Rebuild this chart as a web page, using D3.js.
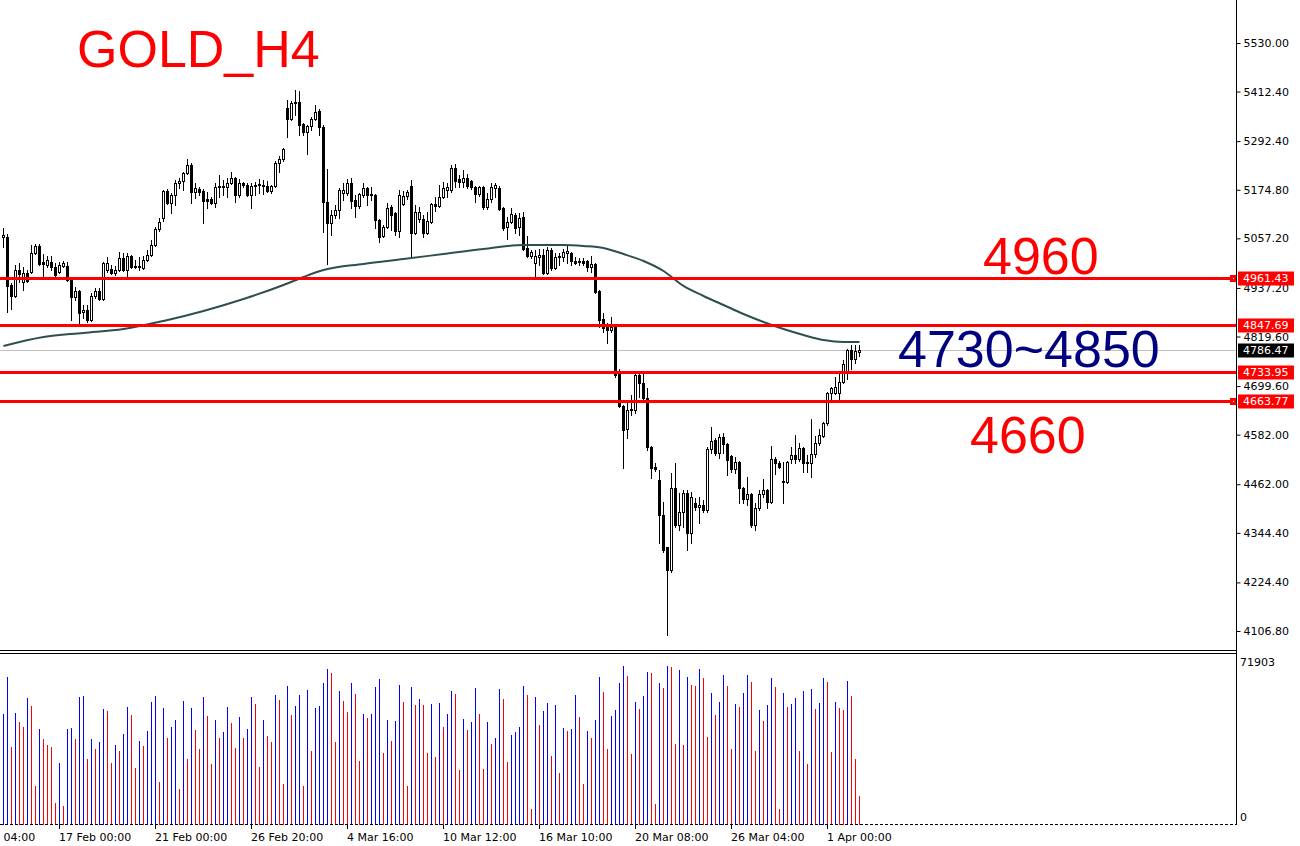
<!DOCTYPE html>
<html>
<head>
<meta charset="utf-8">
<script src="https://cdn.jsdelivr.net/npm/d3@7/dist/d3.min.js"></script>
<style>
body { margin: 0; background: #fff; }
svg text { font-family: "DejaVu Sans", sans-serif; }
</style>
</head>
<body>
<svg id="chart"></svg>
<script>
// GOLD H4 candles
var opens = [
5060.5,5060.5,4944.3,4917.7,4980.6,4951.6,4973.3,4975.8,5021.7,5038.7,
5000.0,4992.9,5000.0,4988.1,4975.8,4990.5,4990.5,4956.4,4915.3,4929.8,
4879.0,4883.8,4859.6,4917.7,4929.8,4910.4,4980.6,4983.0,4973.3,4980.6,
5009.6,4980.6,5014.5,4988.1,4990.5,4985.4,5004.8,5016.9,5041.1,5079.8,
5106.4,5171.8,5142.7,5162.1,5191.1,5196.0,5215.3,5234.7,5169.4,5176.6,
5171.8,5152.4,5152.4,5142.7,5181.5,5183.9,5181.5,5191.1,5203.2,5162.1,
5191.1,5186.3,5162.1,5183.9,5186.3,5183.9,5183.9,5171.8,5183.9,5239.5,
5249.2,5372.6,5346.0,5384.7,5387.2,5333.9,5314.6,5329.1,5346.0,5365.4,
5326.7,5145.2,5094.3,5113.7,5125.8,5167.0,5167.0,5191.1,5150.0,5135.5,
5162.1,5179.0,5162.1,5162.1,5101.6,5062.9,5084.7,5133.1,5118.5,5075.0,
5140.3,5159.7,5183.9,5070.1,5104.0,5104.0,5070.1,5096.8,5140.3,5135.5,
5157.3,5174.2,5174.2,5227.4,5200.8,5193.6,5203.2,5196.0,5181.5,5164.5,
5181.5,5133.1,5152.4,5179.0,5179.0,5130.6,5084.7,5096.8,5113.7,5084.7,
5108.9,5033.8,5014.5,4997.5,5012.1,5016.9,4973.3,5029.0,4985.4,5012.1,
5012.1,5021.7,5021.7,5002.4,5000.0,5002.4,5002.4,4988.1,4995.3,4929.8,
4862.0,4842.7,4835.4,4842.7,4731.3,4651.5,4595.8,4641.8,4641.8,4726.5,
4707.1,4670.8,4552.3,4503.9,4472.4,4387.7,4310.3,4254.6,4453.0,4363.5,
4394.9,4440.9,4344.1,4416.7,4407.1,4411.9,4399.8,4547.4,4569.2,4537.7,
4576.5,4559.5,4530.5,4499.0,4515.9,4453.0,4426.4,4438.5,4363.5,4404.6,
4438.5,4448.2,4419.2,4523.2,4513.5,4470.0,4467.6,4523.2,4532.9,4523.2,
4549.8,4513.5,4513.5,4535.3,4561.9,4578.9,4610.3,4683.0,4683.0,4683.0,
4709.6,4733.8,4787.0,4765.2,4782.2];
var highs = [
5082.2,5067.7,4949.1,4992.9,4997.5,4988.1,4980.6,5041.1,5043.5,5043.5,
5019.3,5014.5,5014.5,4997.5,5000.0,5002.4,5000.0,4958.8,4939.5,4932.2,
4895.9,4895.9,4925.0,4937.0,4937.0,5000.0,5012.1,4992.9,4990.5,5024.2,
5021.7,5021.7,5016.9,5004.8,5012.1,5014.5,5029.0,5053.2,5084.7,5106.4,
5174.2,5176.6,5166.9,5198.4,5203.2,5217.8,5249.2,5239.5,5191.1,5181.5,
5176.6,5169.4,5157.3,5191.1,5210.5,5198.4,5203.2,5217.8,5205.7,5200.8,
5193.6,5191.1,5191.1,5193.6,5200.8,5198.4,5196.0,5186.3,5244.4,5256.5,
5275.8,5392.0,5389.6,5416.2,5413.8,5336.3,5331.5,5350.9,5379.9,5370.2,
5331.5,5225.0,5125.8,5137.9,5179.0,5191.1,5200.8,5203.2,5162.1,5166.9,
5191.1,5181.5,5181.5,5164.5,5104.0,5089.5,5142.7,5137.9,5120.9,5174.2,
5171.8,5174.2,5198.4,5137.9,5133.1,5113.7,5120.9,5142.7,5157.3,5186.3,
5193.6,5191.1,5234.7,5237.1,5210.5,5222.6,5212.9,5198.4,5183.9,5183.9,
5183.9,5166.9,5191.1,5191.1,5183.9,5133.1,5108.9,5130.6,5118.5,5118.5,
5120.9,5062.9,5029.0,5029.0,5031.4,5031.4,5036.3,5033.8,5021.7,5021.7,
5031.4,5038.7,5024.2,5012.1,5009.6,5009.6,5004.8,5014.5,4997.5,4932.2,
4876.5,4852.3,4866.9,4849.9,4741.0,4653.9,4661.2,4678.1,4731.3,4731.3,
4731.3,4695.0,4554.7,4513.5,4496.6,4419.2,4310.3,4489.3,4513.5,4440.9,
4448.2,4448.2,4443.4,4428.8,4431.3,4424.0,4552.3,4600.7,4574.0,4583.7,
4586.1,4561.9,4532.9,4528.1,4518.4,4455.5,4479.7,4440.9,4416.7,4448.2,
4474.8,4450.6,4554.7,4528.1,4518.4,4516.0,4518.4,4552.3,4581.3,4561.9,
4552.3,4532.9,4620.0,4578.9,4595.8,4612.8,4685.4,4697.5,4721.7,4733.8,
4762.8,4789.4,4799.1,4799.1,4799.1];
var lows = [
5036.3,4879.0,4886.2,4915.3,4951.6,4932.2,4951.6,4973.3,5019.3,4992.9,
4963.7,4988.1,4980.6,4966.1,4973.3,4988.1,4954.0,4859.6,4908.0,4847.5,
4864.4,4854.8,4857.2,4912.8,4908.0,4908.0,4975.8,4970.9,4968.5,4978.2,
4978.2,4963.7,4985.4,4985.4,4980.6,4983.0,5002.4,5014.5,5038.7,5075.0,
5099.2,5140.3,5118.5,5137.9,5179.0,5174.2,5212.9,5142.7,5154.8,5162.1,
5094.3,5130.6,5140.3,5133.1,5157.3,5162.1,5157.3,5188.7,5145.2,5157.3,
5181.5,5159.7,5130.6,5162.1,5167.0,5164.5,5169.4,5167.0,5181.5,5217.8,
5244.4,5302.5,5343.6,5355.7,5307.3,5307.3,5261.3,5319.4,5343.6,5307.3,
5072.6,4995.3,5065.3,5106.4,5106.4,5150.0,5162.1,5130.6,5108.9,5130.6,
5157.3,5137.9,5150.0,5082.2,5048.4,5060.5,5082.2,5077.4,5065.3,5060.5,
5137.9,5152.4,5012.1,5067.7,5096.8,5060.5,5067.7,5094.3,5123.4,5133.1,
5154.8,5157.3,5169.4,5181.5,5181.5,5181.5,5179.0,5176.6,5145.2,5159.7,
5128.2,5128.2,5145.2,5157.3,5125.8,5077.4,5055.6,5094.3,5070.1,5065.3,
5029.0,5012.1,5009.6,4963.7,4992.9,4970.9,4970.9,4980.6,4983.0,4992.9,
5002.4,4997.5,4992.9,4995.3,4992.9,4992.9,4978.2,4975.8,4925.0,4842.7,
4830.6,4803.9,4830.6,4721.7,4649.1,4501.4,4574.0,4629.7,4634.5,4673.3,
4666.0,4545.0,4477.2,4494.2,4320.0,4298.2,4097.3,4249.8,4358.7,4351.4,
4358.7,4303.0,4320.0,4399.8,4368.3,4395.0,4395.0,4537.7,4532.9,4525.6,
4537.7,4484.5,4491.8,4489.3,4416.7,4416.7,4411.9,4358.7,4351.4,4399.8,
4431.3,4404.6,4416.7,4486.9,4501.4,4416.7,4465.1,4513.5,4513.5,4518.4,
4491.8,4491.8,4479.7,4528.1,4557.1,4576.5,4605.5,4663.6,4680.5,4663.6,
4707.1,4716.8,4741.0,4755.5,4772.5];
var closes = [
5065.3,4941.9,4917.7,4980.6,4970.9,4973.3,4954.0,5021.7,5038.7,4995.3,
4995.3,5004.8,4988.1,4968.5,4992.9,4997.5,4956.4,4915.3,4929.8,4876.5,
4883.8,4859.6,4917.7,4929.8,4910.4,4997.5,4997.5,4973.3,4980.6,5009.6,
4980.6,5014.5,4988.1,4990.5,4988.1,5004.8,5016.9,5041.1,5079.8,5096.8,
5171.8,5142.7,5162.1,5191.1,5196.0,5215.3,5234.7,5169.4,5179.0,5169.4,
5147.6,5147.6,5142.7,5181.5,5183.9,5181.5,5191.1,5203.2,5162.1,5191.1,
5186.3,5162.1,5183.9,5186.3,5188.7,5186.3,5171.8,5183.9,5239.5,5249.2,
5273.4,5346.0,5384.7,5387.2,5331.5,5314.6,5329.1,5346.0,5363.0,5326.7,
5145.2,5094.3,5113.7,5125.8,5174.2,5174.2,5191.1,5147.6,5135.5,5164.5,
5179.0,5162.1,5164.5,5101.6,5060.5,5084.7,5130.6,5113.7,5075.0,5162.1,
5159.7,5169.4,5070.1,5120.9,5120.9,5070.1,5099.2,5140.3,5135.5,5157.3,
5179.0,5181.5,5227.4,5196.0,5193.6,5203.2,5183.9,5181.5,5164.5,5181.5,
5133.1,5152.4,5181.5,5186.3,5128.2,5082.2,5096.8,5116.1,5082.2,5106.4,
5031.4,5014.5,5024.2,5014.5,5016.9,4973.3,5029.0,4985.4,5012.1,5014.5,
5024.2,5026.6,5002.4,4997.5,5002.4,4997.5,4988.1,4995.3,4927.4,4859.6,
4840.2,4835.4,4842.7,4726.5,4651.5,4593.4,4641.8,4644.2,4726.5,4707.1,
4670.8,4552.3,4501.4,4499.0,4387.7,4303.0,4254.6,4453.0,4363.5,4394.9,
4440.9,4344.1,4431.3,4407.1,4411.9,4399.8,4547.4,4566.8,4537.7,4576.5,
4559.5,4520.8,4499.0,4515.9,4453.0,4426.4,4438.5,4363.5,4404.6,4438.5,
4448.2,4419.2,4523.2,4513.5,4503.9,4467.6,4515.9,4532.9,4523.2,4549.8,
4513.5,4515.9,4535.3,4561.9,4581.3,4610.3,4683.0,4695.0,4697.5,4709.6,
4753.1,4787.0,4765.2,4784.6,4786.47];
var volumes = [
50196,67079,35424,50799,46729,44468,57281,53814,17787,43413,
39042,36178,35424,9949,28188,8743,43564,43865,39042,58035,
58186,29997,39042,34519,37685,52458,51704,28188,36178,33615,
41303,53362,49895,25927,38137,35725,42659,55623,58336,19596,
52910,39494,44468,47634,16431,56075,29997,52910,43112,34519,
57884,49292,27736,47483,39494,42056,53362,46126,34972,48840,
39494,43413,57884,54869,26380,47483,40398,37685,58789,56528,
18541,62859,49895,53814,58789,17787,61050,33615,52910,53814,
64215,70546,68888,37685,60597,56075,51252,64215,59392,29093,
50196,48538,50196,62406,66024,32560,47483,38137,47182,63311,
55623,17787,62406,54266,56980,54266,32560,54719,30902,55322,
44468,50196,60748,59392,24872,47935,43112,46579,61954,50196,
25475,46579,36630,39343,61502,56980,28490,40700,42056,44318,
62859,58789,7236,57884,45222,51553,55171,31203,54266,23515,
43865,42509,43413,58789,48840,18541,42509,39343,47483,66929,
60145,34369,49292,52005,64215,71903,67381,32108,55623,52458,
58336,69190,68737,9497,64215,61954,71700,71451,36630,70094,
36178,66929,63311,62859,70546,66476,39795,59693,49744,55623,
67833,62859,34369,54719,53362,59693,67833,64667,33464,52005,
47031,54266,66476,62406,7236,59693,53362,54719,57432,33464,
60597,27585,61502,52458,55171,66476,64667,33012,55623,52910,
52005,65120,58336,29847,13114];

// moving average, read at some bars
var maIndex = [0,10,20,30,40,50,60,70,75,80,90,100,110,120,130,140,145,150,155,160,165,170,175,180,185,190,195,200,205,210,214];
var maValues = [4796.7,4818.5,4828.2,4837.8,4857.2,4881.4,4910.4,4944.3,4963.7,4980.6,4995.3,5007.2,5019.3,5031.4,5041.1,5041.1,5038.7,5033.8,5019.3,5002.4,4978.2,4942.0,4917.7,4895.9,4874.1,4854.8,4837.8,4823.3,4811.2,4806.4,4806.4];

var priceTicks = [5530.00,5412.40,5292.40,5174.80,5057.20,4937.20,4819.60,4699.60,4582.00,4462.00,4344.40,4224.40,4106.80];
var dateTickIndex = [-10,14,38,62,86,110,134,158,182,206];
var dateLabels = ["12 Feb 04:00","17 Feb 00:00","21 Feb 00:00","26 Feb 20:00","4 Mar 16:00","10 Mar 12:00","16 Mar 10:00","20 Mar 08:00","26 Mar 04:00","1 Apr 00:00"];
var levels = [4961.43,4847.69,4733.95,4663.77];
var levelMarked = [true,false,false,true];
var lastPrice = 4786.47;
var volumeMax = 71903;

var W = 1300, H = 846;
var axisX = 1236;

var svg = d3.select("#chart")
    .attr("width", W)
    .attr("height", H)
    .style("display", "block");

var n = opens.length;
var x = d3.scaleLinear().domain([0, n - 1]).range([3, 3 + 4 * (n - 1)]);
var y = d3.scaleLinear().domain([4106.8, 5530]).range([631, 43]);
var yV = d3.scaleLinear().domain([0, volumeMax]).range([825, 666]);

var bars = d3.range(n).map(function(i) {
    return {i: i, o: opens[i], h: highs[i], l: lows[i], c: closes[i], v: volumes[i]};
});

// current price line (grey)
svg.append("line")
    .attr("x1", 0).attr("x2", axisX)
    .attr("y1", Math.round(y(lastPrice)) + 0.5).attr("y2", Math.round(y(lastPrice)) + 0.5)
    .attr("stroke", "#c0c0c0").attr("stroke-width", 1);

// candles
var cg = svg.append("g").attr("shape-rendering", "crispEdges");
cg.selectAll("rect.wick")
    .data(bars)
    .enter()
    .append("rect")
    .attr("class", "wick")
    .attr("x", function(d) { return x(d.i); })
    .attr("width", 1)
    .attr("y", function(d) { return Math.round(y(d.h)); })
    .attr("height", function(d) { return Math.round(y(d.l)) - Math.round(y(d.h)) + 1; })
    .attr("fill", "#000");

cg.selectAll("rect.body")
    .data(bars)
    .enter()
    .append("rect")
    .attr("class", "body")
    .each(function(d) {
        var top = Math.round(y(Math.max(d.o, d.c)));
        var bot = Math.round(y(Math.min(d.o, d.c)));
        var r = d3.select(this);
        if (d.c > d.o && bot - top >= 2) {
            r.attr("x", x(d.i) - 0.5).attr("y", top + 0.5)
             .attr("width", 2).attr("height", bot - top)
             .attr("fill", "#fff").attr("stroke", "#000").attr("stroke-width", 1);
        } else {
            r.attr("x", x(d.i) - 1).attr("y", top)
             .attr("width", 3).attr("height", bot - top + 1)
             .attr("fill", "#000");
        }
    });

// moving average
var maPts = maIndex.map(function(d, k) { return {i: d, v: maValues[k]}; });
svg.append("path")
    .datum(maPts)
    .attr("d", d3.line()
        .x(function(d) { return x(d.i) + 0.5; })
        .y(function(d) { return y(d.v); })
        .curve(d3.curveMonotoneX))
    .attr("fill", "none")
    .attr("stroke", "#2f4f4f")
    .attr("stroke-width", 2);

// horizontal levels
svg.selectAll("line.level")
    .data(levels)
    .enter()
    .append("line")
    .attr("class", "level")
    .attr("x1", 0).attr("x2", axisX)
    .attr("y1", function(d) { return Math.round(y(d)) + 0.5; })
    .attr("y2", function(d) { return Math.round(y(d)) + 0.5; })
    .attr("stroke", "#ff0000").attr("stroke-width", 3);

// volume bars
svg.append("g").attr("shape-rendering", "crispEdges")
    .selectAll("rect")
    .data(bars)
    .enter()
    .append("rect")
    .attr("x", function(d) { return x(d.i); })
    .attr("width", 1)
    .attr("y", function(d) { return Math.round(yV(d.v)); })
    .attr("height", function(d) { return yV(0) - Math.round(yV(d.v)); })
    .attr("fill", function(d) {
        return (d.i == 0 || d.v > volumes[d.i - 1]) ? "#0000ff" : "#ff0000";
    });

// frames
var fg = svg.append("g").attr("shape-rendering", "crispEdges").attr("stroke", "#000");
fg.append("line").attr("x1", 0).attr("x2", axisX + 1).attr("y1", 650.5).attr("y2", 650.5);
fg.append("line").attr("x1", 0).attr("x2", axisX + 1).attr("y1", 653.5).attr("y2", 653.5);
fg.append("line").attr("x1", 0).attr("x2", axisX + 1).attr("y1", 824.5).attr("y2", 824.5)
    .attr("stroke-dasharray", "3,2");
fg.append("line").attr("x1", axisX + 0.5).attr("x2", axisX + 0.5).attr("y1", 0).attr("y2", 825);

// price axis
var yAxis = d3.axisRight(y)
    .tickValues(priceTicks)
    .tickFormat(d3.format(".2f"))
    .tickSize(4)
    .tickPadding(3);
var ag = svg.append("g")
    .attr("transform", "translate(" + (axisX + 0.5) + ",0)")
    .call(yAxis);
ag.select(".domain").remove();
ag.selectAll("text").attr("font-size", 11).attr("font-family", "DejaVu Sans").attr("fill", "#000");
ag.selectAll("line").attr("stroke", "#000");

// volume axis labels
svg.append("text").attr("x", 1240).attr("y", yV(volumeMax) - 4)
    .attr("dominant-baseline", "central").attr("font-size", 11).text(String(volumeMax));
svg.append("text").attr("x", 1240).attr("y", yV(0) - 8)
    .attr("dominant-baseline", "central").attr("font-size", 11).text("0");

// level tags on the axis
var tags = levels.map(function(d) { return {p: d, fill: "#ff0000"}; });
tags.push({p: lastPrice, fill: "#000"});
var tg = svg.append("g");
tg.selectAll("rect")
    .data(tags)
    .enter()
    .append("rect")
    .attr("x", axisX + 2)
    .attr("y", function(d) { return Math.round(y(d.p)) - 6.5; })
    .attr("width", 56).attr("height", 14)
    .attr("fill", function(d) { return d.fill; });
tg.selectAll("text")
    .data(tags)
    .enter()
    .append("text")
    .attr("x", axisX + 7)
    .attr("y", function(d) { return Math.round(y(d.p)) + 0.5; })
    .attr("dominant-baseline", "central")
    .attr("font-size", 11)
    .attr("fill", "#fff")
    .text(function(d) { return d.p.toFixed(2); });

// small markers at line ends
levels.forEach(function(d, k) {
    if (!levelMarked[k]) return;
    var yy = Math.round(y(d));
    svg.append("rect").attr("x", axisX - 6).attr("y", yy - 3).attr("width", 6).attr("height", 7)
        .attr("fill", "#ff0000").attr("shape-rendering", "crispEdges");
    svg.append("rect").attr("x", axisX - 3).attr("y", yy).attr("width", 1).attr("height", 1)
        .attr("fill", "#fff").attr("shape-rendering", "crispEdges");
});

// time axis
var dg = svg.append("g");
dg.selectAll("line")
    .data(dateTickIndex)
    .enter()
    .append("line")
    .attr("x1", function(d) { return x(d) + 0.5; })
    .attr("x2", function(d) { return x(d) + 0.5; })
    .attr("y1", 825).attr("y2", 829)
    .attr("stroke", "#000").attr("shape-rendering", "crispEdges");
dg.selectAll("text")
    .data(dateTickIndex)
    .enter()
    .append("text")
    .attr("x", function(d) { return x(d); })
    .attr("y", 841)
    .attr("font-size", 11)
    .attr("fill", "#000")
    .text(function(d, k) { return dateLabels[k]; });

// annotations
var notes = [
    {t: "GOLD_H4", x: 77, y: 67, c: "#ff0000"},
    {t: "4960", x: 983, y: 274, c: "#ff0000"},
    {t: "4730~4850", x: 898, y: 367, c: "#000080"},
    {t: "4660", x: 970, y: 453, c: "#ff0000"}
];
svg.selectAll("text.note")
    .data(notes)
    .enter()
    .append("text")
    .attr("class", "note")
    .attr("x", function(d) { return d.x; })
    .attr("y", function(d) { return d.y; })
    .attr("fill", function(d) { return d.c; })
    .style("font-family", "'Liberation Sans', Arial, sans-serif")
    .attr("font-size", 52)
    .text(function(d) { return d.t; });
</script>
</body>
</html>
